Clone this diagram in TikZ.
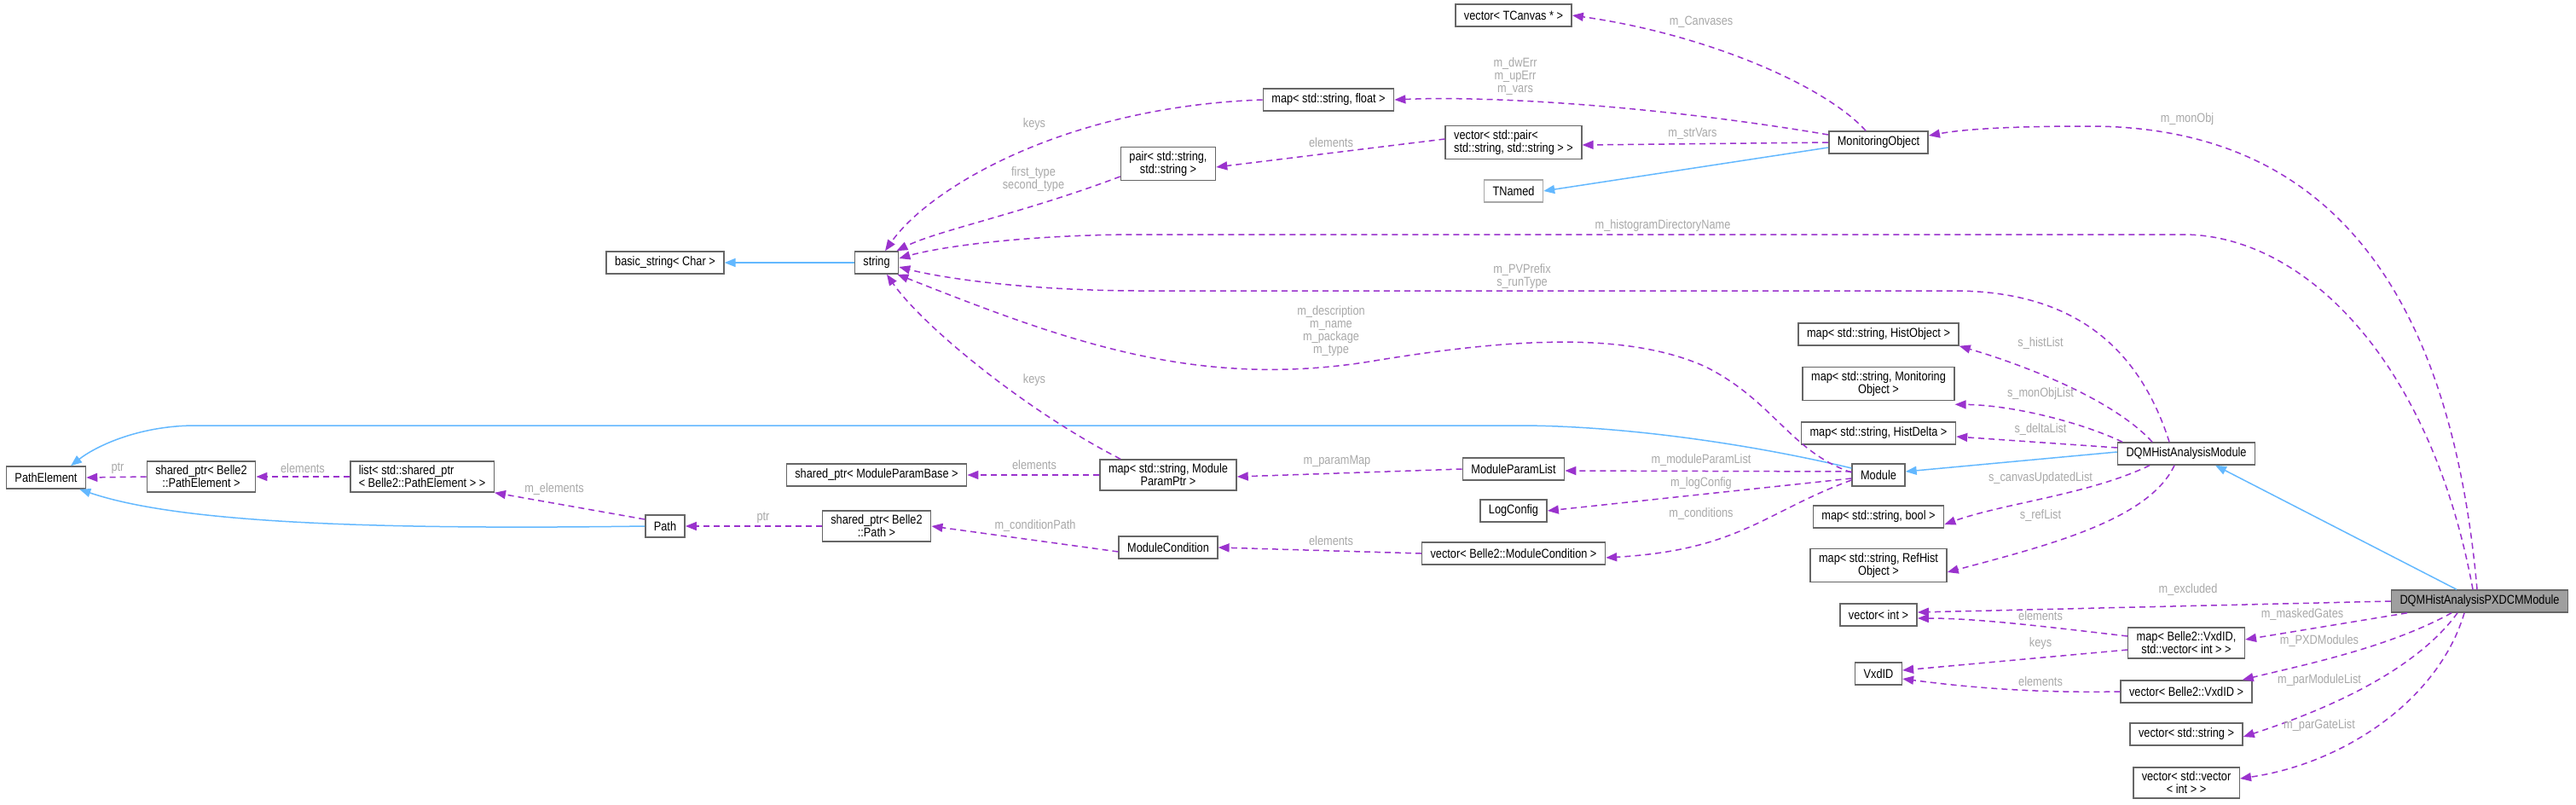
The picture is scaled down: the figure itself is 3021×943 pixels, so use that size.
\documentclass[tikz,border=0pt]{standalone}
\usepackage{fontspec}
\setmainfont{Liberation Sans}[FakeStretch=0.85]
\usetikzlibrary{arrows.meta}
\definecolor{deppurple}{HTML}{9A32CD}
\definecolor{inhblue}{HTML}{63B8FF}
\definecolor{lblgray}{HTML}{A8A8A8}
\definecolor{boxgray}{HTML}{666666}
\tikzset{
  cls/.style={draw=boxgray,line width=1.5pt,fill=white,inner xsep=10pt,inner ysep=5pt,
    minimum height=26pt,align=center,font=\fontsize{15}{15}\selectfont},
  dep/.style={draw=deppurple,line width=1.5pt,dash pattern=on 7pt off 5pt,
    -{Triangle[length=13pt,width=10pt]}},
  inh/.style={draw=inhblue,line width=1.5pt,-{Triangle[length=13pt,width=10pt]}},
  lbl/.style={text=lblgray,inner sep=0pt,align=center,font=\fontsize{15}{15}\selectfont}
}
\begin{document}
\begin{tikzpicture}[x=1pt,y=-1pt]
  \useasboundingbox (0,0) rectangle (3021,943);
  % class boxes:
  \node[cls] (tcanvas) at (1775,18) {vector< TCanvas * >};
  \node[cls] (mfloat) at (1558,117) {map< std::string, float >};
  \node[cls,align=left] (vpair) at (1775,167) {vector< std::pair<\\ std::string, std::string > >};
  \node[cls] (pair) at (1370,192) {pair< std::string,\\std::string >};
  \node[cls,draw=lblgray] (tnamed) at (1775,224) {TNamed};
  \node[cls] (monobj) at (2203,167) {MonitoringObject};
  \node[cls] (string) at (1028,308) {string};
  \node[cls] (bstring) at (780,308) {basic\_string< Char >};
  \node[cls] (mhobj) at (2203,392) {map< std::string, HistObject >};
  \node[cls] (mmobj) at (2203,450) {map< std::string, Monitoring\\Object >};
  \node[cls] (mhdelta) at (2203,508) {map< std::string, HistDelta >};
  \node[cls] (module) at (2203,557) {Module};
  \node[cls] (dqm) at (2564,532) {DQMHistAnalysisModule};
  \node[cls] (mbool) at (2203,606) {map< std::string, bool >};
  \node[cls] (mref) at (2203,663) {map< std::string, RefHist\\Object >};
  \node[cls] (pathel) at (54,560) {PathElement};
  \node[cls] (sppe) at (236,559) {shared\_ptr< Belle2\\::PathElement >};
  \node[cls,align=left] (lsppe) at (495,559) {list< std::shared\_ptr\\< Belle2::PathElement > >};
  \node[cls] (spmpb) at (1028,557) {shared\_ptr< ModuleParamBase >};
  \node[cls] (mmpp) at (1370,557) {map< std::string, Module\\ParamPtr >};
  \node[cls] (mplist) at (1775,550) {ModuleParamList};
  \node[cls] (logcfg) at (1775,599) {LogConfig};
  \node[cls] (path) at (780,617) {Path};
  \node[cls] (sppath) at (1028,617) {shared\_ptr< Belle2\\::Path >};
  \node[cls] (modcond) at (1370,642) {ModuleCondition};
  \node[cls] (vmodcond) at (1775,649) {vector< Belle2::ModuleCondition >};
  \node[cls,fill=gray!75] (pxdcm) at (2908,705) {DQMHistAnalysisPXDCMModule};
  \node[cls] (vint) at (2203,721) {vector< int >};
  \node[cls] (mvxd) at (2564,754) {map< Belle2::VxdID,\\std::vector< int > >};
  \node[cls] (vxdid) at (2203,790) {VxdID};
  \node[cls] (vvxd) at (2564,811) {vector< Belle2::VxdID >};
  \node[cls] (vstr) at (2564,861) {vector< std::string >};
  \node[cls] (vvint) at (2564,918) {vector< std::vector\\< int > >};
  % inheritance:
  \draw[inh] (string.west) -- (bstring.east);
  \draw[inh] ([yshift=-6pt]monobj.west) -- (tnamed.east);
  \draw[inh] ([yshift=2pt]dqm.west) -- ([yshift=4pt]module.east);
  \draw[inh] ([xshift=-27pt]pxdcm.north) -- ([xshift=34pt]dqm.south);
  \draw[inh] ([yshift=8pt]module.west) .. controls (2050,520) and (1900,499) .. (1780,499)
    -- (230,499) .. controls (160,499) and (110,525) .. ([xshift=29pt]pathel.north);
  \draw[inh] (path.west) .. controls (400,622) and (200,610) .. ([xshift=-8pt]pathel.south east);
  % members of MonitoringObject:
  \draw[dep] ([xshift=-15pt]monobj.north) .. controls (2140,100) and (2000,40) .. (tcanvas.east);
  \draw[dep] ([yshift=9pt]monobj.west) .. controls (1950,125) and (1750,112) .. (mfloat.east);
  \draw[dep] (monobj.west) -- ([yshift=-3pt]vpair.east);
  \draw[dep] ([yshift=4pt]vpair.west) -- ([yshift=-4pt]pair.east);
  \draw[dep] ([yshift=-15pt]pair.west) .. controls (1200,250) and (1100,270) .. ([xshift=-3pt]string.north east);
  \draw[dep] (mfloat.west) .. controls (1250,125) and (1090,220) .. ([xshift=10pt]string.north);
  \node[lbl] (l_canv) at (1995,26) {m\_Canvases};
  \node[lbl] (l_err) at (1777,90) {m\_dwErr\\m\_upErr\\m\_vars};
  \node[lbl] (l_strv) at (1985,157) {m\_strVars};
  \node[lbl] (l_pel) at (1561,167) {elements};
  \node[lbl] (l_ft) at (1212,210) {first\_type\\second\_type};
  \node[lbl] (l_fkey) at (1213,146) {keys};
  % members pointing to string:
  \draw[dep] ([xshift=-8pt]pxdcm.north) .. controls (2850,420) and (2700,275) .. (2560,275)
    -- (1340,275) .. controls (1200,275) and (1100,290) .. ([yshift=5pt]string.east);
  \draw[dep] ([xshift=-20pt]dqm.north) .. controls (2500,380) and (2400,341) .. (2290,341)
    -- (1340,341) .. controls (1200,341) and (1100,325) .. ([yshift=-5pt]string.east);
  \draw[dep] ([yshift=3pt]module.west) .. controls (2100,530) and (2080,470) .. (2000,430)
    .. controls (1900,385) and (1750,400) .. (1600,425)
    .. controls (1400,455) and (1250,400) .. ([xshift=-2pt]string.south east);
  \draw[dep] ([xshift=-56pt]mmpp.north) .. controls (1200,480) and (1080,380) .. ([xshift=12pt]string.south);
  \node[lbl] (l_hdir) at (1950,265) {m\_histogramDirectoryName};
  \node[lbl] (l_pvp) at (1785,324) {m\_PVPrefix\\s\_runType};
  \node[lbl] (l_desc) at (1561,388) {m\_description\\m\_name\\m\_package\\m\_type};
  \node[lbl] (l_pkey) at (1213,446) {keys};
  \draw[dep] ([xshift=-3pt]pxdcm.north) .. controls (2870,300) and (2700,148) .. (2450,148)
    .. controls (2350,148) and (2300,152) .. ([yshift=8pt]monobj.east);
  \node[lbl] (l_mon) at (2565,140) {m\_monObj};
  % members of DQMHistAnalysisModule:
  \draw[dep] ([xshift=-40pt]dqm.north) .. controls (2480,470) and (2380,430) .. (mhobj.south east);
  \draw[dep] ([xshift=-75pt]dqm.north) .. controls (2440,495) and (2360,475) .. ([yshift=-4pt]mmobj.south east);
  \draw[dep] ([yshift=7pt]dqm.west) -- ([yshift=-4pt]mhdelta.east);
  \draw[dep] ([xshift=-43pt]dqm.south) .. controls (2450,580) and (2350,590) .. ([yshift=-9pt]mbool.east);
  \draw[dep] ([xshift=-14pt]dqm.south) .. controls (2520,610) and (2400,640) .. ([yshift=-8pt]mref.east);
  \node[lbl] (l_hl) at (2393,403) {s\_histList};
  \node[lbl] (l_mol) at (2393,462) {s\_monObjList};
  \node[lbl] (l_dl) at (2393,504) {s\_deltaList};
  \node[lbl] (l_cul) at (2393,561) {s\_canvasUpdatedList};
  \node[lbl] (l_rl) at (2393,605) {s\_refList};
  % members of Module:
  \draw[dep] ([yshift=4pt]module.west) -- ([yshift=-2pt]mplist.east);
  \draw[dep] ([yshift=-4pt]module.west) -- (logcfg.east);
  \draw[dep] ([yshift=-6pt]module.west) .. controls (2070,600) and (2040,645) .. ([yshift=-5pt]vmodcond.east);
  \draw[dep] (mplist.west) -- ([yshift=-2pt]mmpp.east);
  \draw[dep] (mmpp.west) -- (spmpb.east);
  \draw[dep] (vmodcond.west) -- (modcond.east);
  \draw[dep] ([yshift=-5pt]modcond.west) -- (sppath.east);
  \draw[dep] (sppath.west) -- (path.east);
  \draw[dep] ([yshift=8pt]path.west) -- (lsppe.south east);
  \draw[dep] (lsppe.west) -- (sppe.east);
  \draw[dep] (sppe.west) -- (pathel.east);
  \node[lbl] (l_mpl) at (1995,540) {m\_moduleParamList};
  \node[lbl] (l_log) at (1995,567) {m\_logConfig};
  \node[lbl] (l_cond) at (1995,603) {m\_conditions};
  \node[lbl] (l_pmap) at (1568,541) {m\_paramMap};
  \node[lbl] (l_mpel) at (1213,545) {elements};
  \node[lbl] (l_mcel) at (1561,634) {elements};
  \node[lbl] (l_cpath) at (1214,617) {m\_conditionPath};
  \node[lbl] (l_ptr) at (895,607) {ptr};
  \node[lbl] (l_melem) at (650,574) {m\_elements};
  \node[lbl] (l_lel) at (355,549) {elements};
  \node[lbl] (l_pptr) at (138,549) {ptr};
  % members of DQMHistAnalysisPXDCMModule:
  \draw[dep] (pxdcm.west) -- ([yshift=3pt]vint.east);
  \draw[dep] ([xshift=-85pt]pxdcm.south) -- ([yshift=4pt]mvxd.east);
  \draw[dep] ([yshift=8pt]mvxd.west) .. controls (2400,735) and (2320,725) .. ([yshift=-4pt]vint.east);
  \draw[dep] ([yshift=-8pt]mvxd.west) -- ([yshift=4pt]vxdid.east);
  \draw[dep] (vvxd.west) .. controls (2380,813) and (2300,805) .. ([yshift=-6pt]vxdid.east);
  \draw[dep] ([xshift=-33pt]pxdcm.south) .. controls (2800,760) and (2700,780) .. ([xshift=-12pt]vvxd.north east);
  \draw[dep] ([xshift=-26pt]pxdcm.south) .. controls (2830,790) and (2720,835) .. ([yshift=-3pt]vstr.east);
  \draw[dep] ([xshift=-18pt]pxdcm.south) .. controls (2860,820) and (2750,895) .. ([yshift=5pt]vvint.east);
  \node[lbl] (l_exc) at (2566,692) {m\_excluded};
  \node[lbl] (l_mask) at (2700,721) {m\_maskedGates};
  \node[lbl] (l_vel) at (2393,722) {elements};
  \node[lbl] (l_vkey) at (2393,755) {keys};
  \node[lbl] (l_xel) at (2393,799) {elements};
  \node[lbl] (l_pxdm) at (2720,752) {m\_PXDModules};
  \node[lbl] (l_pml) at (2720,798) {m\_parModuleList};
  \node[lbl] (l_pgl) at (2720,851) {m\_parGateList};
\end{tikzpicture}
\end{document}
